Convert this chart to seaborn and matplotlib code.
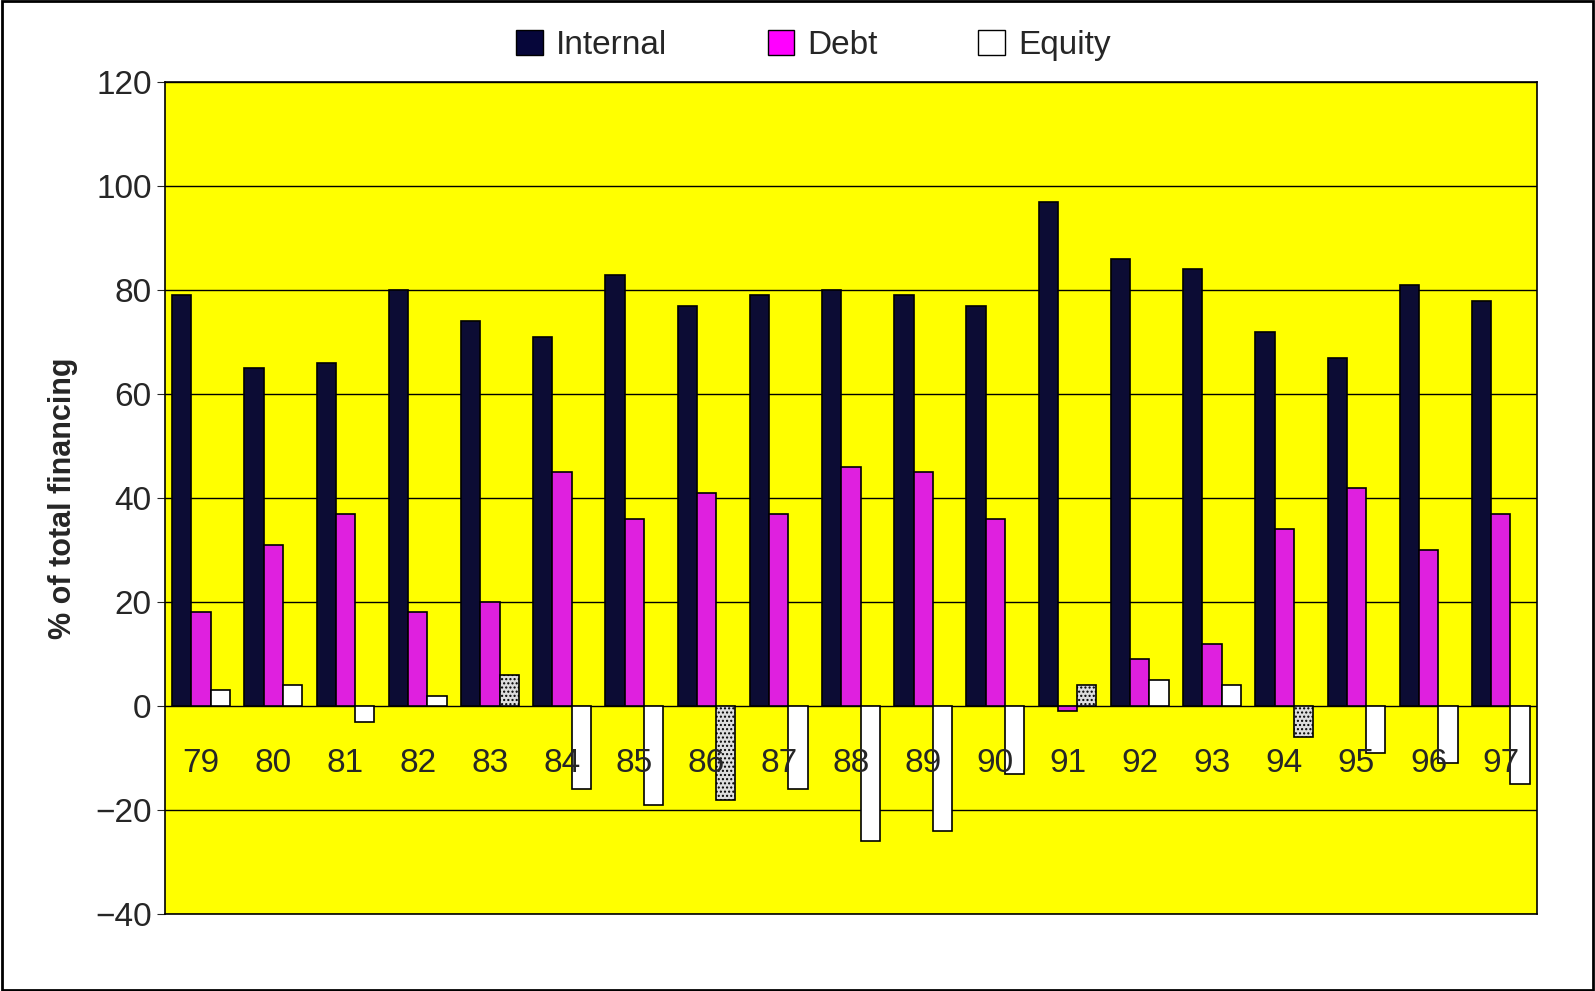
import matplotlib
matplotlib.use("Agg")
import matplotlib.pyplot as plt
import seaborn as sns
import pandas as pd
from matplotlib.patches import Patch

years = ["79", "80", "81", "82", "83", "84", "85", "86", "87", "88",
         "89", "90", "91", "92", "93", "94", "95", "96", "97"]
internal = [79, 65, 66, 80, 74, 71, 83, 77, 79, 80, 79, 77, 97, 86, 84, 72, 67, 81, 78]
debt = [18, 31, 37, 18, 20, 45, 36, 41, 37, 46, 45, 36, -1, 9, 12, 34, 42, 30, 37]
equity = [3, 4, -3, 2, 6, -16, -19, -18, -16, -26, -24, -13, 4, 5, 4, -6, -9, -11, -15]
dotted_years = ["83", "86", "91", "94"]  # equity bars drawn with a dot fill

series = ["Internal", "Debt", "Equity"]
colors = ["#06063a", "#ff00ff", "#ffffff"]

df = pd.DataFrame({
    "year": years * 3,
    "series": [s for s in series for _ in years],
    "value": internal + debt + equity,
})

sns.set_style("white")
plt.rcParams["font.family"] = ["Liberation Sans", "DejaVu Sans"]

fig = plt.figure(figsize=(15.95, 9.91), dpi=100)
ax = fig.add_axes([0.1034, 0.0777, 0.8602, 0.8393])
ax.set_facecolor("#ffff00")

sns.barplot(data=df, x="year", y="value", hue="series", palette=colors,
            hue_order=series, order=years, width=0.8, edgecolor="black",
            linewidth=1.2, ax=ax, legend=False, zorder=3)

# dotted equity bars
for patch, yr in zip(ax.containers[2], years):
    if yr in dotted_years:
        patch.set_hatch("....")
        patch.set_facecolor("#dddddd")

ax.set_ylim(-40, 120)
ax.set_yticks(range(-40, 121, 20))
ax.yaxis.grid(True, color="black", linewidth=1, zorder=0)
ax.set_axisbelow(True)
ax.set_xlim(-0.5, len(years) - 0.5)
ax.set_xticks([])
ax.set_xlabel("")
ax.set_ylabel("% of total financing", fontsize=22, fontweight="bold", labelpad=12)
ax.tick_params(axis="y", labelsize=24, length=6, direction="out", left=True)
for s in ax.spines.values():
    s.set_color("black")
    s.set_linewidth(1.2)

for i, yr in enumerate(years):
    ax.text(i, -11, yr, ha="center", va="center", fontsize=24, zorder=4)

handles = [Patch(facecolor=c, edgecolor="black", label=s) for s, c in zip(series, colors)]
fig.legend(handles=handles, loc="upper center", bbox_to_anchor=(0.51, 1.0), ncol=3,
           frameon=False, fontsize=24, handlelength=0.8, handleheight=0.8,
           columnspacing=3, handletextpad=0.4)

fig.patches.append(plt.Rectangle((0.001, 0.001), 0.998, 0.998, transform=fig.transFigure,
                                 fill=False, edgecolor="black", linewidth=2))

fig.savefig("out.png", dpi=100)
